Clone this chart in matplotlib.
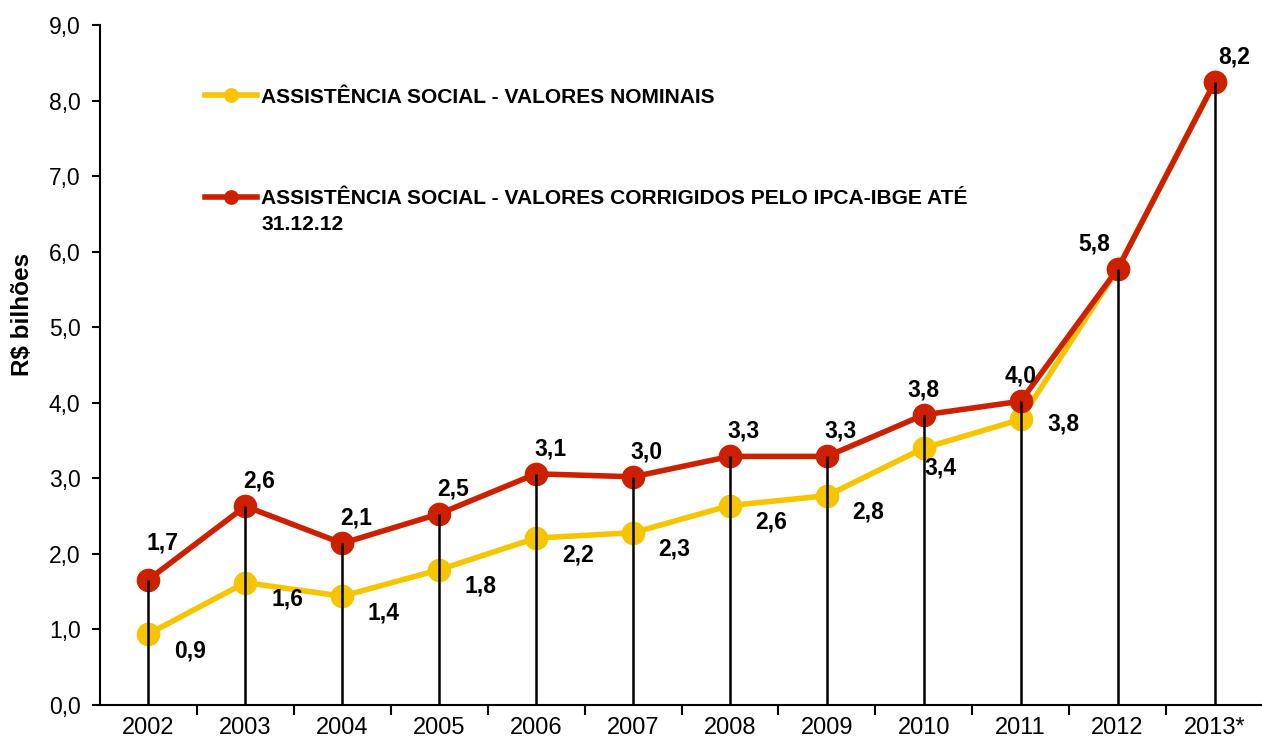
import numpy as np
import matplotlib
matplotlib.use("Agg")
import matplotlib.pyplot as plt

plt.rcParams['font.family'] = ['Liberation Sans', 'DejaVu Sans']

anos = ['2002', '2003', '2004', '2005', '2006', '2007', '2008', '2009',
        '2010', '2011', '2012', '2013*']
nominais = [0.94, 1.62, 1.44, 1.79, 2.21, 2.28, 2.64, 2.77, 3.40, 3.78, 5.77, 8.24]
corrigidos = [1.66, 2.63, 2.14, 2.53, 3.06, 3.02, 3.29, 3.29, 3.84, 4.02, 5.77, 8.24]

AMARELO = '#F7C500'
VERMELHO = '#CC2000'


def fmt(v):
    return f'{v:.1f}'.replace('.', ',')


x = np.arange(len(anos))

fig = plt.figure(figsize=(12.62, 7.47), dpi=100)
ax = fig.add_axes([100 / 1262, 42 / 747, 1163 / 1262, 680 / 747])

l1, = ax.plot(x, nominais, color=AMARELO, lw=4, marker='o', ms=16,
              label='ASSISTÊNCIA SOCIAL - VALORES NOMINAIS', zorder=3)
l2, = ax.plot(x, corrigidos, color=VERMELHO, lw=4, marker='o', ms=16,
              label='ASSISTÊNCIA SOCIAL - VALORES CORRIGIDOS PELO IPCA-IBGE ATÉ',
              zorder=4)
ax.vlines(x, 0, corrigidos, color='black', lw=1.8, zorder=5)

# rótulos de valor (offsets em pontos)
for i, v in enumerate(nominais[:10]):
    dx, dy = (30, -12) if i != 9 else (31, -3)
    if i == 8:
        dx, dy = (12, -14)
    ax.annotate(fmt(v), (x[i], v), xytext=(dx, dy), textcoords='offset points',
                ha='center', va='center', fontsize=16.5, fontweight='bold', zorder=6)
for i, v in enumerate(corrigidos):
    dx, dy = 10, 18
    if i == 0:
        dx, dy = 10, 26
    elif i in (8, 9):
        dx = 0
    elif i == 10:
        dx = -17
    elif i == 11:
        dx = 14
    ax.annotate(fmt(v), (x[i], v), xytext=(dx, dy), textcoords='offset points',
                ha='center', va='center', fontsize=16.5, fontweight='bold', zorder=6)

leg = ax.legend(handles=[l1, l2], loc='upper left', bbox_to_anchor=(0.09, 0.908),
                frameon=False, prop={'weight': 'bold', 'size': 15.1},
                handlelength=2.5, handletextpad=0.2, labelspacing=3.95,
                borderpad=0, borderaxespad=0, markerscale=0.6)
ax.text(0.139, 0.707, '31.12.12', transform=ax.transAxes, ha='left', va='center',
        fontsize=15.1, fontweight='bold')

ax.set_xlim(-0.5, len(anos) - 0.5)
ax.set_ylim(0, 9)
ax.set_yticks(np.arange(0, 10, 1))
ax.set_yticklabels([fmt(t) for t in np.arange(0, 10, 1)], fontsize=16.5)
ax.set_xticks(x)
ax.set_xticklabels(anos, fontsize=17)
ax.tick_params(axis='x', which='major', length=0, pad=9)
ax.set_xticks(np.arange(0.5, len(anos) - 0.5, 1), minor=True)
ax.tick_params(axis='x', which='minor', length=7, width=1.5, direction='out')
ax.tick_params(axis='y', length=6, width=1.5, direction='out', pad=8)
ax.set_ylabel('R$ bilhões', fontsize=17.5, fontweight='bold')
ax.yaxis.set_label_coords(-0.057, 0.575)

for s in ('top', 'right'):
    ax.spines[s].set_visible(False)
for s in ('left', 'bottom'):
    ax.spines[s].set_linewidth(1.5)

fig.savefig('out.png', dpi=100)
